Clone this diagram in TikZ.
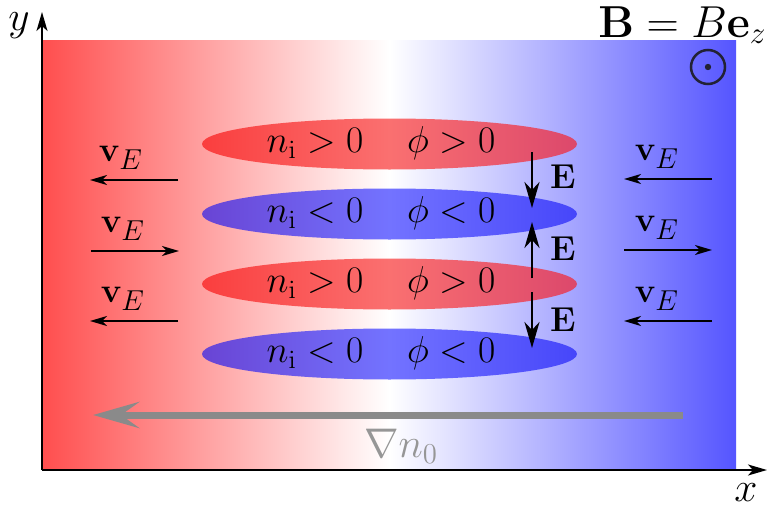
\documentclass[tikz,border=0pt]{standalone}
\usepackage{amsmath}
\usetikzlibrary{arrows.meta,shapes.geometric}
\definecolor{bgred}{RGB}{255,78,78}
\definecolor{bgblue}{RGB}{85,85,255}
\definecolor{erl}{RGB}{250,62,62}
\definecolor{erm}{RGB}{250,112,112}
\definecolor{err}{RGB}{220,72,108}
\definecolor{ebl}{RGB}{105,68,212}
\definecolor{ebm}{RGB}{115,115,255}
\definecolor{ebr}{RGB}{70,70,250}
\definecolor{dotcol}{RGB}{34,34,52}
\definecolor{gradgray}{RGB}{138,138,138}
\definecolor{gradtext}{RGB}{150,150,150}
\newcommand{\vElab}{{\fontsize{17.28}{20}\selectfont$\mathbf{v}_{\mbox{\fontsize{14.4}{16}\selectfont$E$}}$}}
\newcommand{\elltext}[1]{\scalebox{1.085}{#1}}
\begin{document}
\begin{tikzpicture}[x=0.5pt,y=-0.5pt,
  bigtext/.style={font=\fontsize{17.28}{21}\selectfont, inner sep=0pt},
  axtext/.style={font=\fontsize{20.74}{24}\selectfont, inner sep=0pt},
  btext/.style={font=\fontsize{20.74}{24}\selectfont, inner sep=0pt},
  etext/.style={font=\fontsize{17.28}{20}\selectfont, inner sep=0pt},
  vtext/.style={inner sep=0pt},
  redell/.style={ellipse, draw=none, minimum width=187.5pt, minimum height=25.5pt, inner sep=0pt,
    left color=erl, right color=err, middle color=erm},
  blueell/.style={ellipse, draw=none, minimum width=187.5pt, minimum height=25.5pt, inner sep=0pt,
    left color=ebl, right color=ebr, middle color=ebm},
  axisarrow/.style={line width=1pt, -{Stealth[length=9.5pt,width=5.5pt,inset=2.5pt]}},
  efield/.style={line width=1.2pt, -{Stealth[length=13pt,width=7.5pt,inset=4pt]}},
  vearrow/.style={line width=1pt, -{Stealth[length=8.5pt,width=5pt,inset=2.5pt]}},
  gradarrow/.style={draw=gradgray, line width=3.5pt, -{Stealth[length=23pt,width=13pt,inset=9pt]}},
]
\useasboundingbox (0,0) rectangle (768,509);
% background
\shade[left color=bgred, right color=bgblue, middle color=white] (42,40) rectangle (736,470);
% axes
\coordinate (o) at (42,470);
\coordinate (ytip) at (42,12);
\coordinate (xtip) at (767,470);
\draw[axisarrow] (o) -- (ytip);
\draw[axisarrow] (o) -- (xtip);
\node[axtext] (ylab) at (19,26) {$y$};
\node[axtext] (xlab) at (746,493) {$x$};
% B field
\node[btext, anchor=east] (blab) at (767,25) {\scalebox{1.08}{$\mathbf{B}=B\mathbf{e}_z$}};
\node[circle, draw=dotcol, line width=1.25pt, minimum size=17pt, inner sep=0pt] (bcirc) at (708,67) {};
\fill[dotcol] (bcirc.center) circle (3.2);
% ellipses
\node[redell] (e1) at (389.5,144) {};
\node[blueell] (e2) at (389.5,214) {};
\node[redell] (e3) at (389.5,284) {};
\node[blueell] (e4) at (389.5,354) {};
\node[bigtext] (t1) at (381,143) {\elltext{$n_{\mathrm{i}}>0\quad\,\phi>0$}};
\node[bigtext] (t2) at (381,213) {\elltext{$n_{\mathrm{i}}<0\quad\,\phi<0$}};
\node[bigtext] (t3) at (381,283) {\elltext{$n_{\mathrm{i}}>0\quad\,\phi>0$}};
\node[bigtext] (t4) at (381,353) {\elltext{$n_{\mathrm{i}}<0\quad\,\phi<0$}};
% E field arrows
\coordinate (ea1) at (532,152);
\coordinate (eb1) at (532,208);
\coordinate (ea2) at (532,278);
\coordinate (eb2) at (532,222);
\coordinate (ea3) at (532,292);
\coordinate (eb3) at (532,348);
\draw[efield] (ea1) -- (eb1);
\draw[efield] (ea2) -- (eb2);
\draw[efield] (ea3) -- (eb3);
\node[etext] (E1) at (563,177) {$\mathbf{E}$};
\node[etext] (E2) at (563,249) {$\mathbf{E}$};
\node[etext] (E3) at (563,320) {$\mathbf{E}$};
% v_E arrows left
\coordinate (la1) at (178,180); \coordinate (lb1) at (90,180);
\coordinate (la2) at (91,251);  \coordinate (lb2) at (179,251);
\coordinate (la3) at (178,321); \coordinate (lb3) at (90,321);
\draw[vearrow] (la1) -- (lb1);
\draw[vearrow] (la2) -- (lb2);
\draw[vearrow] (la3) -- (lb3);
\node[vtext] (lv1) at (121,158) {\vElab};
\node[vtext] (lv2) at (123,229) {\vElab};
\node[vtext] (lv3) at (123,299) {\vElab};
% v_E arrows right
\coordinate (ra1) at (712,179); \coordinate (rb1) at (624,179);
\coordinate (ra2) at (624,250); \coordinate (rb2) at (712,250);
\coordinate (ra3) at (712,321); \coordinate (rb3) at (624,321);
\draw[vearrow] (ra1) -- (rb1);
\draw[vearrow] (ra2) -- (rb2);
\draw[vearrow] (ra3) -- (rb3);
\node[vtext] (rv1) at (657,157) {\vElab};
\node[vtext] (rv2) at (657,228) {\vElab};
\node[vtext] (rv3) at (657,299) {\vElab};
% gradient arrow
\coordinate (ga) at (683,415);
\coordinate (gb) at (93,415);
\draw[gradarrow] (ga) -- (gb);
\node[font=\fontsize{20.74}{24}\selectfont, inner sep=0pt, text=gradtext] (gn) at (401,446) {$\nabla n_0$};
\end{tikzpicture}
\end{document}
